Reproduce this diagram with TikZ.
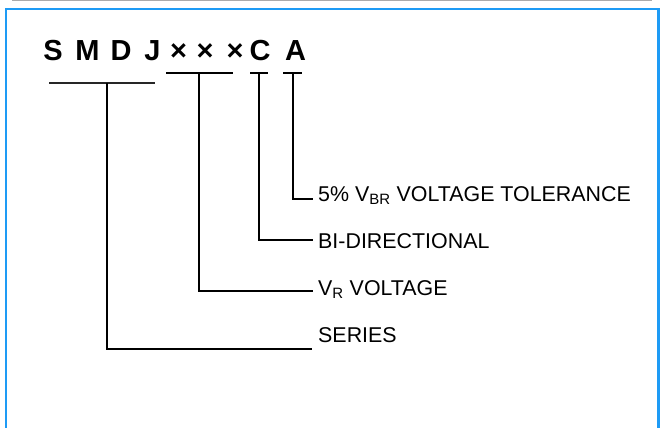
\documentclass[tikz,border=0pt]{standalone}
\usepackage{fontspec}
\setmainfont{Liberation Sans}
\usetikzlibrary{calc}
\definecolor{framblue}{RGB}{30,155,245}

\begin{document}
\begin{tikzpicture}[x=1pt, y=-1pt,
	ltr/.style={font=\fontsize{29}{32}\bfseries\selectfont, inner sep=0pt, anchor=base},
	lbl/.style={font=\fontsize{21.4}{24}\selectfont, inner sep=0pt, anchor=base west},
	bar/.style={line width=2.5pt},
	lead/.style={line width=2pt}]
			%%%%% START %%%%%
			\useasboundingbox (0,0) rectangle (664,428);
			
			\draw[line width=1.2pt, color=black!33] (12,0.6) -- (652,0.6);
			\draw[line width=2.2pt, color=framblue] (6,430) -- (6,8.7) -- (658.5,8.7) -- (658.5,430);
			
			\node[ltr] (s) at (53,61) {S};
			\node[ltr] (m) at (87.5,61) {M};
			\node[ltr] (d) at (121,61) {D};
			\node[ltr] (j) at (152.5,61) {J};
			\node[ltr] (x1) at (178.5,61) {×};
			\node[ltr] (x2) at (205,61) {×};
			\node[ltr] (x3) at (235,61) {×};
			\node[ltr] (c) at (260,61) {C};
			\node[ltr] (a) at (295.5,61) {A};
			
			\draw[line width=1.2pt, color=black!85] (49,83) -- (155,83);
			\draw[bar] (166,73) -- (233,73);
			\draw[bar] (250,73) -- (268,73);
			\draw[bar] (283,73) -- (302,73);
			
			\coordinate (bsmdj) at (107,83);
			\coordinate (bvolt) at (198.5,73);
			\coordinate (bbidir) at (259,73);
			\coordinate (btol) at (292.7,73);
			
			\node[lbl] (tol) at (318,201) {5\% V\textsubscript{BR} VOLTAGE TOLERANCE};
			\node[lbl] (bidir) at (318,248) {BI-DIRECTIONAL};
			\node[lbl] (volt) at (318,295) {V\textsubscript{R} VOLTAGE};
			\node[lbl] (series) at (318,342) {SERIES};
			
			\draw[lead] (btol) |- ([xshift=-5pt, yshift=2pt]tol.base west);
			\draw[lead] (bbidir) |- ([xshift=-5pt, yshift=8pt]bidir.base west);
			\draw[lead] (bvolt) |- ([xshift=-5pt, yshift=4pt]volt.base west);
			\draw[lead] (bsmdj) |- ([xshift=-6pt, yshift=-7pt]series.base west);
			
			%%%%% END %%%%%
		\end{tikzpicture}
\end{document}
